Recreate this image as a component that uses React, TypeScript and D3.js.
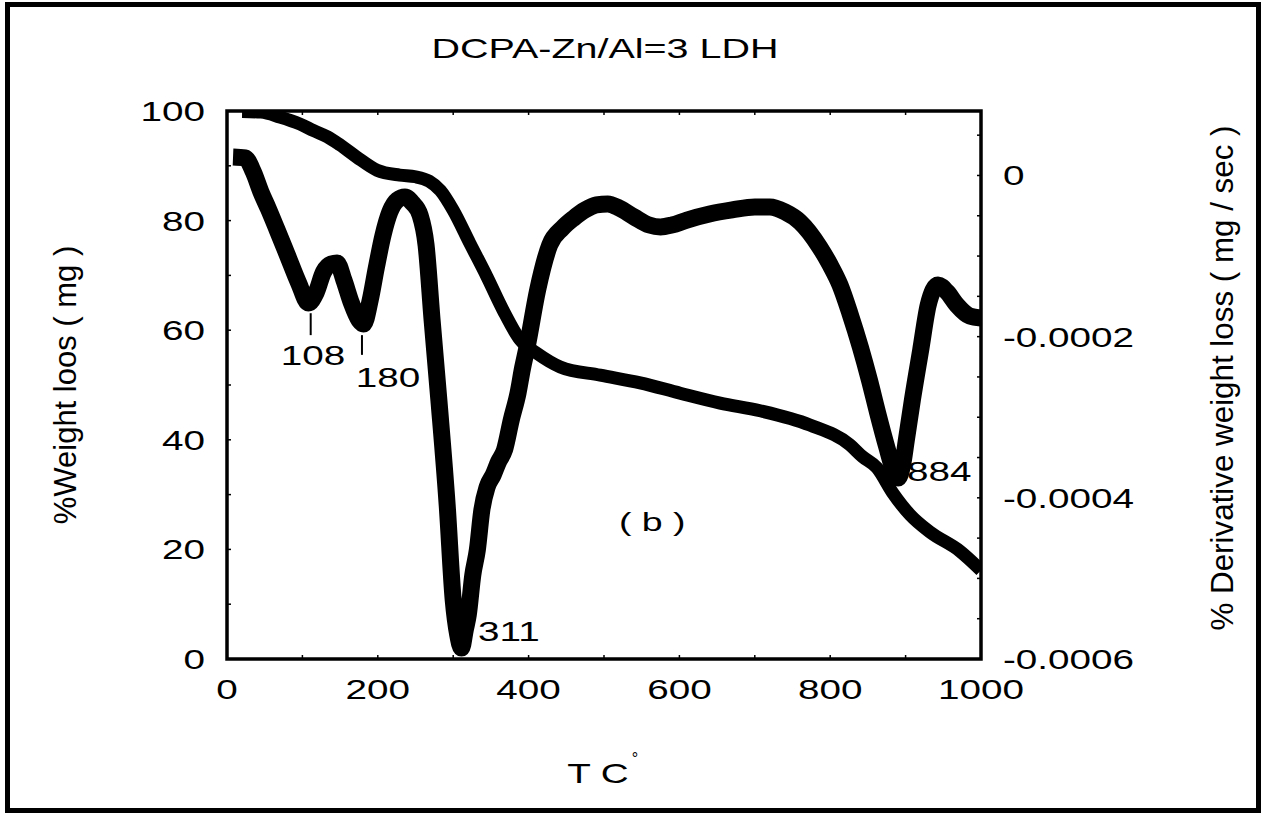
import React from "react";
import * as d3 from "d3";

const title = "DCPA-Zn/Al=3 LDH";
const xTicks = [0, 200, 400, 600, 800, 1000];
const leftTicks = [0, 20, 40, 60, 80, 100];
const rightTicks = [0, -0.0002, -0.0004, -0.0006];
const rightTickLabels = ["0", "-0.0002", "-0.0004", "-0.0006"];

// TG weight loss (%), left axis
const tgTemp = [20, 45, 70, 97, 115, 133, 150, 172, 199, 229, 250, 268, 283, 300, 322, 345, 366, 389, 411, 442, 495, 548, 601, 654, 707, 773, 826, 843, 862, 883, 906, 932, 972, 1000];
const tgWeight = [99.9, 99.8, 98.9, 97.6, 96.4, 95.3, 93.8, 91.6, 89.2, 88.3, 88.0, 87.2, 85.5, 81.9, 75.9, 69.7, 63.7, 58.2, 55.8, 53.3, 51.8, 50.4, 48.5, 46.7, 45.3, 42.7, 39.1, 36.9, 34.9, 30.3, 26.3, 23.2, 19.7, 16.2];

// DTG derivative weight loss, right axis
const dtgTemp = [8, 24, 35, 45, 55, 66, 80, 95, 108, 118, 128, 138, 146, 155, 165, 175, 181, 190, 198, 207, 216, 226, 236, 246, 256, 264, 272, 281, 292, 300, 306, 311, 316, 320, 326, 332, 338, 345, 353, 360, 368, 377, 386, 392, 398, 412, 428, 445, 460, 475, 490, 505, 520, 540, 560, 575, 590, 610, 640, 670, 700, 720, 740, 760, 786, 800, 813, 826, 840, 852, 863, 875, 884, 890, 896, 901, 909, 920, 930, 943, 955, 968, 985, 1000];
const dtgValue = [0.0000229, 0.0000217, 0.0000043, -0.0000205, -0.0000416, -0.0000664, -0.0000987, -0.0001334, -0.0001582, -0.0001458, -0.0001198, -0.0001099, -0.0001086, -0.0001297, -0.0001583, -0.0001793, -0.0001843, -0.0001545, -0.0001148, -0.0000739, -0.0000453, -0.0000304, -0.0000267, -0.0000342, -0.0000491, -0.0000863, -0.0001793, -0.0002786, -0.0004089, -0.0005268, -0.0005702, -0.0005864, -0.000564, -0.0005454, -0.0004958, -0.0004648, -0.0004151, -0.0003866, -0.0003717, -0.0003556, -0.0003407, -0.0003034, -0.0002699, -0.0002389, -0.0002129, -0.0001421, -0.0000863, -0.0000652, -0.0000528, -0.0000428, -0.0000366, -0.0000354, -0.0000404, -0.0000515, -0.0000615, -0.0000639, -0.0000615, -0.0000553, -0.0000478, -0.0000428, -0.0000391, -0.0000391, -0.0000453, -0.0000577, -0.0000888, -0.0001111, -0.0001359, -0.0001707, -0.0002129, -0.0002538, -0.0002948, -0.0003369, -0.0003655, -0.0003754, -0.0003593, -0.0003283, -0.0002786, -0.0002166, -0.0001607, -0.0001359, -0.0001446, -0.0001607, -0.0001744, -0.0001769];

// peak annotations: label, label position (T, %), optional tick (T, % from, % to)
const peakLabels = ["108", "180", "311", "884"];
const peakLabelT = [114, 213.5, 333, 902];
const peakLabelW = [53.6, 49.6, 3.3, 32.5];
const peakAnchor = ["middle", "middle", "start", "start"];
const peakTickT = [111, 179];
const peakTickFrom = [63.1, 59.1];
const peakTickTo = [59.1, 55.5];

const W = 1264;
const H = 816;
const M = { left: 227, right: 981, top: 111, bottom: 659 };
const FONT = "'Liberation Sans', Arial, sans-serif";
const SX = 1.38;

function SText(props: { x: number; y: number; anchor?: string; size?: number; sx?: number; rotate?: boolean; len?: number; children: React.ReactNode }) {
  const { x, y, anchor = "middle", size = 28, sx = SX, rotate = false, len, children } = props;
  const tr = rotate ? `translate(${x},${y}) scale(${sx},1) rotate(-90)` : `translate(${x},${y}) scale(${sx},1)`;
  return (
    <text
      transform={tr}
      textAnchor={anchor as any}
      fontSize={size}
      fontFamily={FONT}
      fill="#000"
      {...(len ? { textLength: len, lengthAdjust: "spacingAndGlyphs" } : {})}
    >
      {children}
    </text>
  );
}

export default function App() {
  const x = d3.scaleLinear().domain([0, 1000]).range([M.left, M.right]);
  const yL = d3.scaleLinear().domain([0, 100]).range([M.bottom, M.top]);
  const yR = d3.scaleLinear().domain([-0.0006, 0.00008]).range([M.bottom, M.top]);

  const tgLine = d3
    .line<number>()
    .x((_, i) => x(tgTemp[i]))
    .y((_, i) => yL(tgWeight[i]))
    .curve(d3.curveMonotoneX);
  const dtgLine = d3
    .line<number>()
    .x((_, i) => x(dtgTemp[i]))
    .y((_, i) => yR(dtgValue[i]))
    .curve(d3.curveMonotoneX);

  const minorX = d3.range(0, 1001, 100);
  const minorL = d3.range(0, 101, 10);
  const minorR = d3.range(-0.0006, 0.00008, 0.00005);

  return (
    <div style={{ position: "absolute", left: 0, top: 0 }}>
      <svg width={W} height={H} style={{ display: "block", background: "#fff" }}>
        <rect x={7.5} y={4.5} width={1251} height={806} fill="#fff" stroke="#000" strokeWidth={5} />
        <defs>
          <clipPath id="plotClip">
            <rect x={M.left} y={M.top} width={M.right - M.left} height={M.bottom - M.top} />
          </clipPath>
        </defs>

        <g clipPath="url(#plotClip)">
          <path d={tgLine(tgTemp) || ""} fill="none" stroke="#000" strokeWidth={13} strokeLinejoin="round" />
          <path d={dtgLine(dtgTemp) || ""} fill="none" stroke="#000" strokeWidth={17} strokeLinejoin="round" />
        </g>

        {/* axes box */}
        <rect x={M.left} y={M.top} width={M.right - M.left} height={M.bottom - M.top} fill="none" stroke="#000" strokeWidth={3.5} />

        {/* ticks */}
        {minorX.map((v) => (
          <g key={"x" + v}>
            <line x1={x(v)} x2={x(v)} y1={M.bottom} y2={M.bottom - 4} stroke="#000" strokeWidth={1.5} />
            <line x1={x(v)} x2={x(v)} y1={M.top} y2={M.top + 4} stroke="#000" strokeWidth={1.5} />
          </g>
        ))}
        {minorL.map((v) => (
          <line key={"l" + v} x1={M.left} x2={M.left + 4} y1={yL(v)} y2={yL(v)} stroke="#000" strokeWidth={1.5} />
        ))}
        {minorR.map((v, i) => (
          <line key={"r" + i} x1={M.right} x2={M.right - 4} y1={yR(v)} y2={yR(v)} stroke="#000" strokeWidth={1.5} />
        ))}

        {/* tick labels */}
        {leftTicks.map((v) => (
          <SText key={"lt" + v} x={205} y={yL(v) + 10} anchor="end">
            {String(v)}
          </SText>
        ))}
        {xTicks.map((v) => (
          <SText key={"xt" + v} x={x(v)} y={699}>
            {String(v)}
          </SText>
        ))}
        {rightTicks.map((v, i) => (
          <SText key={"rt" + i} x={1003} y={yR(v) + 10} anchor="start">
            {rightTickLabels[i]}
          </SText>
        ))}

        {/* title & axis titles */}
        <SText x={605} y={58} sx={1.41}>
          {title}
        </SText>
        <SText x={76} y={385} rotate size={31} sx={1}>
          %Weight loos ( mg )
        </SText>
        <SText x={1233} y={378} rotate size={31} sx={1} len={505}>
          % Derivative weight loss  ( mg / sec )
        </SText>
        <SText x={598} y={783}>
          T C
        </SText>
        <SText x={635} y={764} size={16} sx={1}>
          °
        </SText>

        {/* annotations */}
        {peakTickT.map((t, i) => (
          <line key={"pt" + i} x1={x(t)} x2={x(t)} y1={yL(peakTickFrom[i])} y2={yL(peakTickTo[i])} stroke="#000" strokeWidth={2} />
        ))}
        {peakLabels.map((s, i) => (
          <SText key={"pl" + i} x={x(peakLabelT[i])} y={yL(peakLabelW[i])} anchor={peakAnchor[i]}>
            {s}
          </SText>
        ))}
        <SText x={x(564)} y={yL(23.4)} size={25} sx={1.5}>
          ( b )
        </SText>
      </svg>
    </div>
  );
}
